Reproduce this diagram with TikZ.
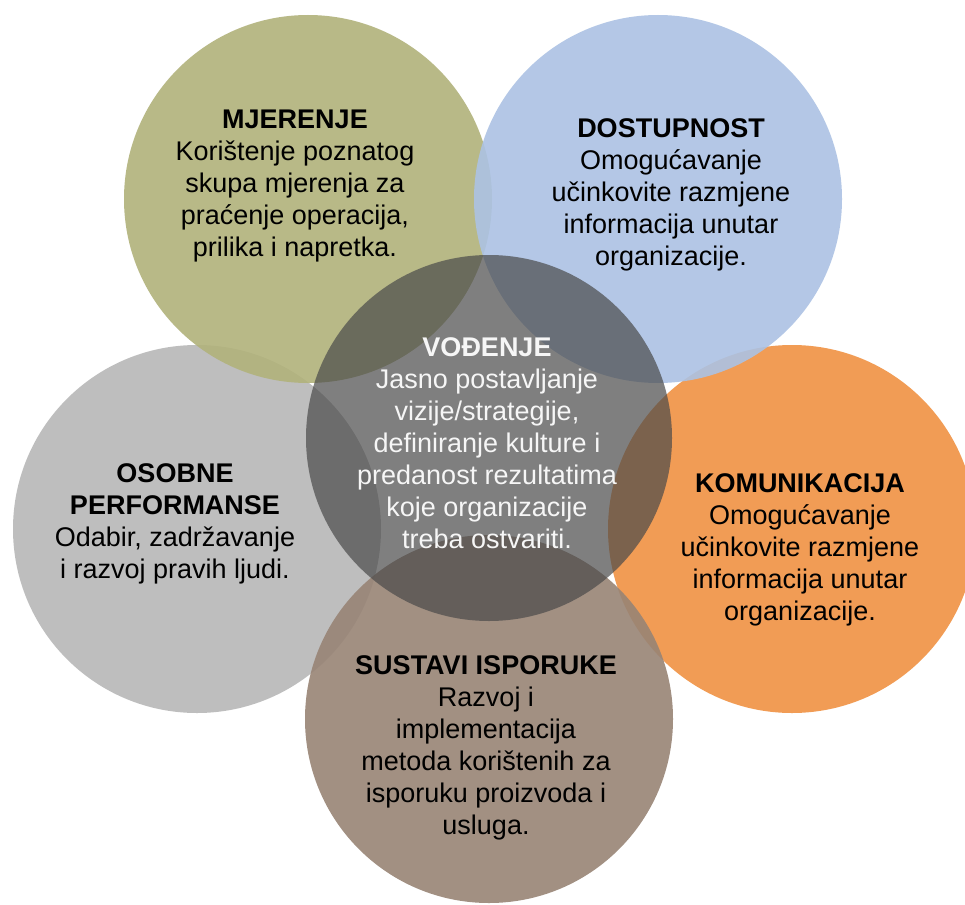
\documentclass[tikz,border=0pt]{standalone}
\usepackage{fontspec}
\setmainfont{Liberation Sans}
\definecolor{colOlive}{RGB}{177,178,123}
\definecolor{colBlue}{RGB}{172,194,228}
\definecolor{colOrange}{RGB}{240,146,67}
\definecolor{colGray}{RGB}{184,184,184}
\definecolor{colBrown}{RGB}{152,132,117}
\definecolor{colCenter}{RGB}{74,74,74}
\definecolor{colWhiteText}{RGB}{246,246,246}
\tikzset{
  bubble/.style={circle, draw=none, inner sep=0pt, minimum size=368pt, fill opacity=0.9},
  centerbubble/.style={circle, draw=none, inner sep=0pt, minimum size=366pt, fill=colCenter, fill opacity=0.7},
  bubbletext/.style={anchor=north, inner sep=0pt, align=center, text=black,
    font=\fontsize{27}{32}\selectfont},
}
\begin{document}
\begin{tikzpicture}[x=1pt,y=-1pt]
\useasboundingbox (0,0) rectangle (965,904);
\clip (0,0) rectangle (965,904);
\fill[white] (0,0) rectangle (965,904);
% circles
\node[bubble, fill=colGray] (osC) at (197,529) {};
\node[bubble, fill=colOlive] (mjC) at (308,199) {};
\node[bubble, fill=colOrange] (koC) at (792,529) {};
\node[bubble, fill=colBlue] (doC) at (658,199) {};
\node[bubble, fill=colBrown] (suC) at (489,719) {};
\node[centerbubble] (voC) at (489,438) {};
% texts
\node[bubbletext] (mjT) at (295,110) {\textbf{MJERENJE}\\Korištenje poznatog\\skupa mjerenja za\\praćenje operacija,\\prilika i napretka.};
\node[bubbletext] (doT) at (671,118) {\textbf{DOSTUPNOST}\\Omogućavanje\\učinkovite razmjene\\informacija unutar\\organizacije.};
\node[bubbletext] (koT) at (800,473) {\textbf{KOMUNIKACIJA}\\Omogućavanje\\učinkovite razmjene\\informacija unutar\\organizacije.};
\node[bubbletext] (osT) at (175,463) {\textbf{OSOBNE}\\\textbf{PERFORMANSE}\\Odabir, zadržavanje\\i razvoj pravih ljudi.};
\node[bubbletext] (suT) at (486,655) {\textbf{SUSTAVI ISPORUKE}\\Razvoj i\\implementacija\\metoda korištenih za\\isporuku proizvoda i\\usluga.};
\node[bubbletext, text=colWhiteText] (voT) at (487,337) {\textbf{VOĐENJE}\\Jasno postavljanje\\vizije/strategije,\\definiranje kulture i\\predanost rezultatima\\koje organizacije\\treba ostvariti.};
\end{tikzpicture}
\end{document}
